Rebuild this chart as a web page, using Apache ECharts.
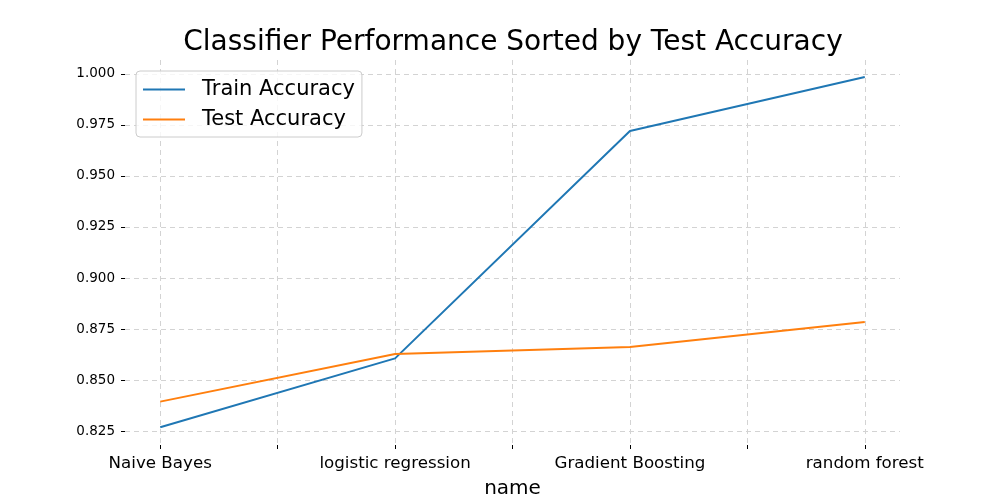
<!DOCTYPE html>
<html>
<head>
<meta charset="utf-8">
<script src="https://cdn.jsdelivr.net/npm/echarts@6/dist/echarts.min.js"></script>
<style>
  html, body { margin: 0; padding: 0; background: #fff; }
  #main { width: 1000px; height: 500px; }
</style>
</head>
<body>
<div id="main"></div>
<script>
var names = ['Naive Bayes', 'logistic regression', 'Gradient Boosting', 'random forest'];
var trainAcc = [0.8268, 0.8606, 0.9721, 0.9985];
var testAcc = [0.8394, 0.8627, 0.8662, 0.8784];
var xTicks = [0, 0.5, 1, 1.5, 2, 2.5, 3];
var xLabelPos = [0, 1, 2, 3];
var yTicks = [0.825, 0.85, 0.875, 0.9, 0.925, 0.95, 0.975, 1.0];

var toPoints = function(arr) {
  return arr.map(function(v, i) { return [i, v]; });
};

var chart = echarts.init(document.getElementById('main'), null, { renderer: 'canvas' });

var option = {
  animation: false,
  backgroundColor: '#fff',
  textStyle: { fontFamily: 'DejaVu Sans' },
  title: {
    text: 'Classifier Performance Sorted by Test Accuracy',
    left: 508,
    textAlign: 'center',
    top: 24,
    textStyle: { fontFamily: 'DejaVu Sans', fontSize: 28, fontWeight: 'normal', color: '#000' }
  },
  legend: {
    orient: 'vertical',
    left: 136,
    top: 71,
    padding: [8, 7, 7, 7],
    itemGap: 9,
    itemWidth: 42,
    itemHeight: 2,
    icon: 'rect',
    backgroundColor: 'rgba(255,255,255,0.8)',
    borderColor: '#cccccc',
    borderWidth: 1,
    borderRadius: 4,
    textStyle: { fontFamily: 'DejaVu Sans', fontSize: 21, color: '#000', padding: [0, 0, 0, 12] },
    data: ['Train Accuracy', 'Test Accuracy']
  },
  grid: { left: 125, right: 100, top: 60, bottom: 55, outerBoundsMode: 'none', containLabel: false },
  xAxis: {
    type: 'value',
    min: -0.15,
    max: 3.15,
    name: 'name',
    nameLocation: 'middle',
    nameGap: 34,
    nameTextStyle: { fontFamily: 'DejaVu Sans', fontSize: 20, color: '#000' },
    axisLine: { show: false, onZero: false },
    axisTick: { show: true, length: 4, customValues: xTicks, lineStyle: { color: '#000' } },
    axisLabel: {
      customValues: xLabelPos,
      margin: 10,
      fontSize: 16.7,
      color: '#000',
      fontFamily: 'DejaVu Sans',
      formatter: function(v) { return names[Math.round(v)]; }
    },
    splitLine: { show: true, lineStyle: { color: '#d3d3d3', type: [5, 4], width: 1 } }
  },
  yAxis: {
    type: 'value',
    min: 0.81814,
    max: 1.00686,
    axisLine: { show: false, onZero: false },
    axisTick: { show: true, length: 4, customValues: yTicks, lineStyle: { color: '#000' } },
    axisLabel: {
      customValues: yTicks,
      margin: 10,
      fontSize: 13.5,
      color: '#000',
      fontFamily: 'DejaVu Sans',
      formatter: function(v) { return v.toFixed(3); }
    },
    splitLine: { show: true, lineStyle: { color: '#d3d3d3', type: [5, 4], width: 1 } }
  },
  series: [
    {
      name: 'Train Accuracy',
      type: 'line',
      data: toPoints(trainAcc),
      showSymbol: false,
      symbol: 'none',
      itemStyle: { color: '#1f77b4' },
      lineStyle: { color: '#1f77b4', width: 2 }
    },
    {
      name: 'Test Accuracy',
      type: 'line',
      data: toPoints(testAcc),
      showSymbol: false,
      symbol: 'none',
      itemStyle: { color: '#ff7f0e' },
      lineStyle: { color: '#ff7f0e', width: 2 }
    }
  ]
};

chart.setOption(option);
</script>
</body>
</html>
